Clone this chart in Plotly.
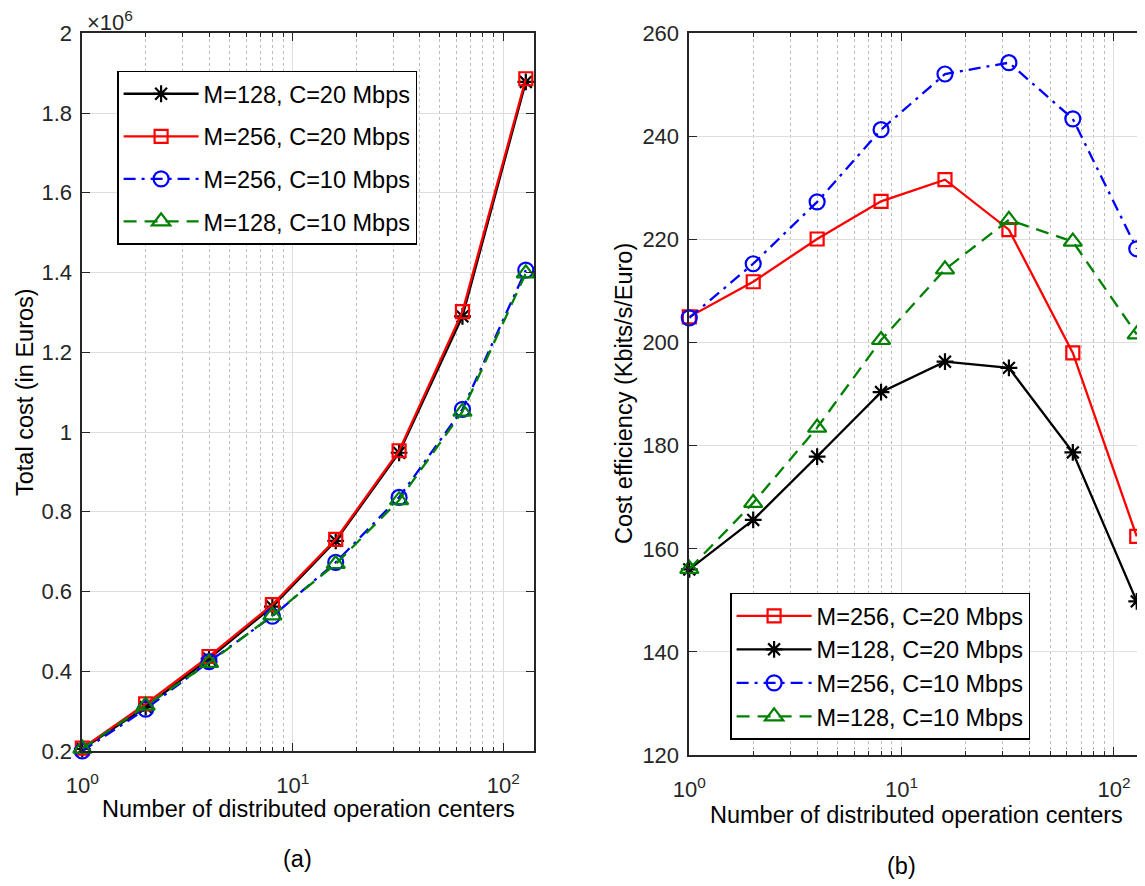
import math
import plotly.graph_objects as go

# ---------------- data ----------------
n_centers = [1, 2, 4, 8, 16, 32, 64, 128]

# (a) Total cost (in Euros), values in units of 1e6
cost_m128_c20 = [0.205, 0.310, 0.432, 0.562, 0.727, 0.948, 1.290, 1.878]
cost_m256_c20 = [0.207, 0.318, 0.437, 0.567, 0.731, 0.953, 1.302, 1.886]
cost_m256_c10 = [0.200, 0.305, 0.424, 0.538, 0.673, 0.836, 1.057, 1.406]
cost_m128_c10 = [0.206, 0.314, 0.421, 0.540, 0.669, 0.829, 1.051, 1.398]

# (b) Cost efficiency (Kbits/s/Euro)
eff_m256_c20 = [205.0, 211.8, 220.1, 227.4, 231.6, 221.9, 198.0, 162.4]
eff_m128_c20 = [156.0, 165.6, 177.9, 190.4, 196.3, 195.1, 178.7, 149.8]
eff_m256_c10 = [204.8, 215.3, 227.3, 241.3, 252.1, 254.3, 243.4, 218.2]
eff_m128_c10 = [156.1, 168.9, 183.5, 200.5, 214.2, 223.8, 219.6, 201.6]

label_m128_c20 = "M=128, C=20 Mbps"
label_m256_c20 = "M=256, C=20 Mbps"
label_m256_c10 = "M=256, C=10 Mbps"
label_m128_c10 = "M=128, C=10 Mbps"

x_tickvals = [1, 10, 100]
x_ticktext = ["10<sup>0</sup>", "10<sup>1</sup>", "10<sup>2</sup>"]
x_minor_vals = [2, 3, 4, 5, 6, 7, 8, 9, 20, 30, 40, 50, 60, 70, 80, 90]
ya_tickvals = [0.2, 0.4, 0.6, 0.8, 1.0, 1.2, 1.4, 1.6, 1.8, 2.0]
ya_ticktext = ["0.2", "0.4", "0.6", "0.8", "1", "1.2", "1.4", "1.6", "1.8", "2"]
yb_tickvals = [120, 140, 160, 180, 200, 220, 240, 260]
x_max = 140

x_title = "Number of distributed operation centers"
ya_title = "Total cost (in Euros)"
yb_title = "Cost efficiency (Kbits/s/Euro)"

# ---------------- styles ----------------
PAGE_W, PAGE_H = 1145, 886
OFF = 8  # default body margin of the html page
W, H = PAGE_W - OFF, PAGE_H - OFF
FONT = "Liberation Sans, Arial, Helvetica, sans-serif"
AX = "#262626"

styles = {
    "black": dict(color="#000000", dash="solid", symbol="asterisk-open", size=14),
    "red": dict(color="#ff0000", dash="solid", symbol="square-open", size=13),
    "blue": dict(color="#0000ff", dash="12px,6px,3px,6px", symbol="circle-open", size=15),
    "green": dict(color="#008000", dash="13px,8px", symbol="triangle-up-open", size=16),
}


def trace(x, y, name, st, xa, ya, legend):
    return go.Scatter(
        x=x, y=y, name=name, mode="lines+markers",
        xaxis=xa, yaxis=ya, legend=legend, legendgroup=name + legend,
        line=dict(color=st["color"], width=2.3, dash=st["dash"]),
        marker=dict(symbol=st["symbol"], size=st["size"], color=st["color"],
                    line=dict(color=st["color"], width=2.2)),
        cliponaxis=False, hoverinfo="skip",
    )


fig = go.Figure()
# (a)
fig.add_trace(trace(n_centers, cost_m128_c20, label_m128_c20, styles["black"], "x", "y", "legend"))
fig.add_trace(trace(n_centers, cost_m256_c20, label_m256_c20, styles["red"], "x", "y", "legend"))
fig.add_trace(trace(n_centers, cost_m256_c10, label_m256_c10, styles["blue"], "x", "y", "legend"))
fig.add_trace(trace(n_centers, cost_m128_c10, label_m128_c10, styles["green"], "x", "y", "legend"))
# (b)
fig.add_trace(trace(n_centers, eff_m256_c20, label_m256_c20, styles["red"], "x2", "y2", "legend2"))
fig.add_trace(trace(n_centers, eff_m128_c20, label_m128_c20, styles["black"], "x2", "y2", "legend2"))
fig.add_trace(trace(n_centers, eff_m256_c10, label_m256_c10, styles["blue"], "x2", "y2", "legend2"))
fig.add_trace(trace(n_centers, eff_m128_c10, label_m128_c10, styles["green"], "x2", "y2", "legend2"))


def px_x(p):
    return min(1.0, (p - OFF) / W)


def px_y(p):
    return 1 - (p - OFF) / H


def xaxis_style(domain, anchor):
    return dict(
        type="log", range=[0, math.log10(x_max)], domain=domain, anchor=anchor,
        tickvals=x_tickvals, ticktext=x_ticktext, automargin=False,
        ticks="inside", ticklen=8, tickwidth=1.3, tickcolor=AX,
        showline=True, linecolor=AX, linewidth=1.6, mirror="ticks",
        showgrid=True, gridcolor="#dedede", gridwidth=1.3,
        minor=dict(tickvals=x_minor_vals, ticks="inside", ticklen=4, tickwidth=1.2,
                   tickcolor=AX, showgrid=True, gridcolor="#bdbdbd", griddash="dot",
                   gridwidth=1.2),
        tickfont=dict(family=FONT, size=22, color=AX),
        ticklabelstandoff=14, zeroline=False, fixedrange=True,
    )


def yaxis_style(domain, anchor, rng, tickvals, ticktext=None):
    d = dict(
        range=rng, domain=domain, anchor=anchor, tickvals=tickvals, automargin=False,
        ticks="inside", ticklen=8, tickwidth=1.3, tickcolor=AX,
        showline=True, linecolor=AX, linewidth=1.6, mirror="ticks",
        showgrid=True, gridcolor="#dedede", gridwidth=1.3,
        tickfont=dict(family=FONT, size=22, color=AX),
        ticklabelstandoff=4, zeroline=False, fixedrange=True,
    )
    if ticktext is not None:
        d["ticktext"] = ticktext
    return d


legend_common = dict(
    xanchor="left", yanchor="top", bgcolor="white", bordercolor="#000000",
    borderwidth=1.3, font=dict(family=FONT, size=23.5, color="#000000"),
    traceorder="grouped", itemsizing="trace", itemwidth=75,
)


def note(text, x, y, size=23.5, color="#000000", angle=0):
    return dict(text=text, x=px_x(x), y=px_y(y), xref="paper", yref="paper",
                xanchor="center", yanchor="middle", textangle=angle,
                showarrow=False, font=dict(family=FONT, size=size, color=color))


annotations = [
    note("\u00d710<sup>6</sup>", 110, 21, size=22, color=AX),
    note(ya_title, 25, 392, angle=-90),
    note(yb_title, 624, 394, angle=-90),
    note(x_title, 308, 809),
    note(x_title, 917, 815),
    note("(a)", 297, 859),
    note("(b)", 901, 866),
]

fig.update_layout(
    width=W, height=H, autosize=False,
    margin=dict(l=0, r=0, t=0, b=0, autoexpand=False),
    paper_bgcolor="white", plot_bgcolor="white",
    font=dict(family=FONT, color=AX),
    xaxis=xaxis_style([px_x(82.3), px_x(534)], "y"),
    yaxis=yaxis_style([px_y(751), px_y(33.3)], "x", [0.2, 2.0], ya_tickvals, ya_ticktext),
    xaxis2=xaxis_style([px_x(689.3), px_x(1145)], "y2"),
    yaxis2=yaxis_style([px_y(755), px_y(33.3)], "x2", [120, 260], yb_tickvals),
    legend=dict(x=px_x(117.3), y=px_y(70.7), tracegroupgap=9, **legend_common),
    legend2=dict(x=px_x(730.3), y=px_y(592.7), tracegroupgap=0, **legend_common),
    annotations=annotations,
    hovermode=False,
)

fig.write_html("out.html", config={"displayModeBar": False})
